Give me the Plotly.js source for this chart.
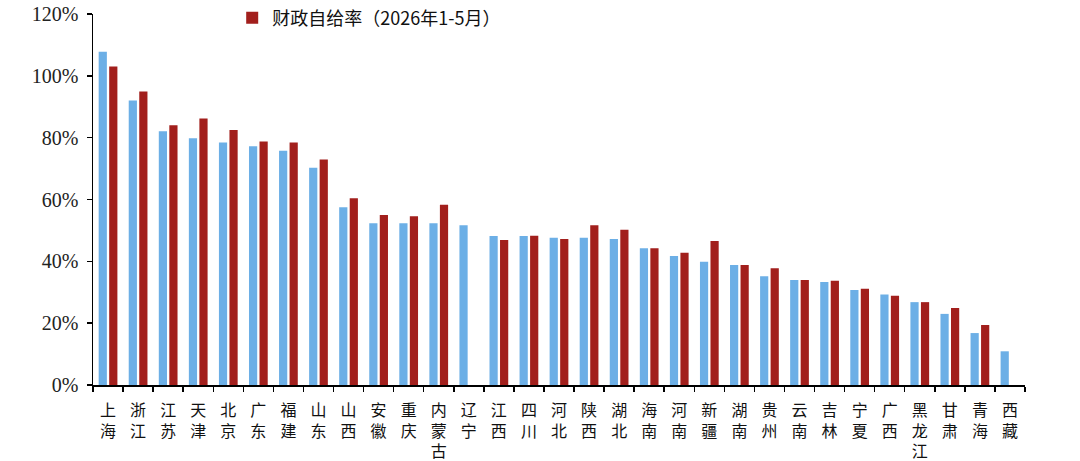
<!DOCTYPE html>
<html>
<head>
<meta charset="utf-8">
<script src="https://cdn.plot.ly/plotly-3.0.1.min.js"></script>
<style>
  html, body { margin: 0; padding: 0; background: #fff; }
  #chart { width: 1080px; height: 461px; }
</style>
</head>
<body>
<div id="chart"></div>
<script>
// Provinces, in the order shown on the x axis
const provinces = ['上海', '浙江', '江苏', '天津', '北京', '广东', '福建', '山东', '山西', '安徽',
    '重庆', '内蒙古', '辽宁', '江西', '四川', '河北', '陕西', '湖北', '海南', '河南',
    '新疆', '湖南', '贵州', '云南', '吉林', '宁夏', '广西', '黑龙江', '甘肃', '青海', '西藏'];

// Light blue bars (previous period, no legend entry in the source)
const ratioPrev = [1.078, 0.920, 0.821, 0.798, 0.784, 0.772, 0.758, 0.703, 0.575, 0.523,
    0.523, 0.523, 0.517, 0.482, 0.482, 0.476, 0.476, 0.472, 0.442, 0.417,
    0.399, 0.388, 0.352, 0.340, 0.333, 0.307, 0.293, 0.268, 0.230, 0.168, 0.109];

// Dark red bars: 财政自给率（2026年1-5月）
const ratio2026 = [1.030, 0.949, 0.840, 0.862, 0.825, 0.788, 0.784, 0.729, 0.604, 0.550,
    0.546, 0.583, null, 0.469, 0.483, 0.472, 0.517, 0.502, 0.442, 0.428,
    0.466, 0.388, 0.378, 0.340, 0.337, 0.311, 0.289, 0.268, 0.249, 0.194, null];

const legendName = '财政自给率（2026年1-5月）';
const yTicks = [0, 0.2, 0.4, 0.6, 0.8, 1.0, 1.2];

// Stack the characters of each name vertically, like the source
const tickText = provinces.map(p => p.split('').join('<br>'));

const cjk = '"Noto Sans CJK SC", "Noto Sans", sans-serif';

let blueBars = {
    type: 'bar',
    name: '2025年1-5月',
    x: provinces,
    y: ratioPrev,
    marker: {color: '#6cafe6'},
    showlegend: false,
    hoverinfo: 'x+y'
};

let redBars = {
    type: 'bar',
    name: legendName,
    x: provinces,
    y: ratio2026,
    marker: {color: '#a21f1c'},
    hoverinfo: 'x+y'
};

let layout = {
    width: 1080,
    height: 461,
    // keep the plot box fixed, the legend must not push the top margin
    margin: {l: 93, r: 55, t: 14, b: 76, autoexpand: false},
    paper_bgcolor: '#fff',
    plot_bgcolor: '#fff',
    barmode: 'group',
    bargap: 0.3,
    bargroupgap: 0.22,
    font: {family: cjk, color: '#000', size: 16},

    xaxis: {
        type: 'category',
        tickmode: 'array',
        tickvals: provinces,
        ticktext: tickText,
        tickson: 'boundaries',
        ticks: 'outside',
        ticklen: 5,
        tickwidth: 1.5,
        tickcolor: '#000',
        ticklabelstandoff: 10,
        showline: true,
        linecolor: '#000',
        linewidth: 1.5,
        showgrid: false,
        tickangle: 0,
        automargin: false,
        tickfont: {family: cjk, size: 16, color: '#111'},
        fixedrange: true
    },

    yaxis: {
        range: [0, 1.2],
        tickmode: 'array',
        tickvals: yTicks,
        tickformat: '.0%',
        ticks: 'outside',
        ticklen: 5,
        tickwidth: 1.5,
        tickcolor: '#000',
        ticklabelstandoff: 4,
        showline: true,
        linecolor: '#000',
        linewidth: 1.5,
        showgrid: false,
        zeroline: false,
        automargin: false,
        tickfont: {family: '"Liberation Serif", serif', size: 20, color: '#222'},
        fixedrange: true
    },

    legend: {
        xref: 'container',
        yref: 'container',
        x: 0.215,
        y: 0.961,
        xanchor: 'left',
        yanchor: 'middle',
        orientation: 'h',
        bgcolor: 'rgba(0,0,0,0)',
        font: {family: cjk, size: 18, color: '#111'},
        itemwidth: 30
    }
};

Plotly.newPlot('chart', [blueBars, redBars], layout, {displayModeBar: false, staticPlot: true});
</script>
</body>
</html>
